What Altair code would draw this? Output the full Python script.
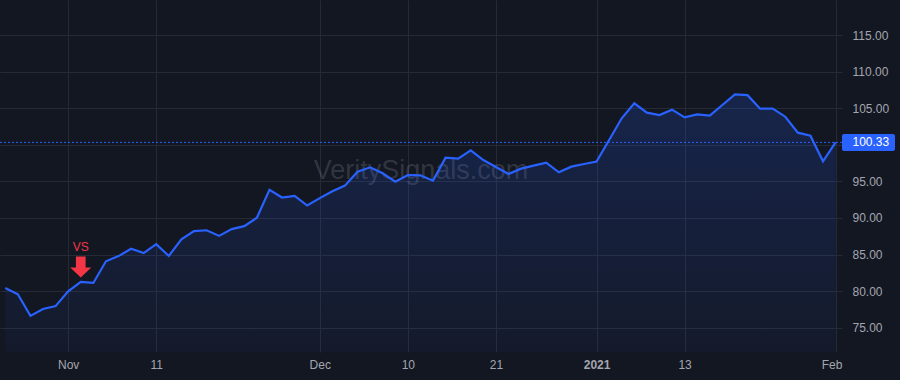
import altair as alt
import pandas as pd

# ---- data ----
dates = [
    "2020-10-26", "2020-10-27", "2020-10-28", "2020-10-29", "2020-10-30",
    "2020-11-02", "2020-11-03", "2020-11-04", "2020-11-05", "2020-11-06",
    "2020-11-09", "2020-11-10", "2020-11-11", "2020-11-12", "2020-11-13",
    "2020-11-16", "2020-11-17", "2020-11-18", "2020-11-19", "2020-11-20",
    "2020-11-23", "2020-11-24", "2020-11-25", "2020-11-27", "2020-11-30",
    "2020-12-01", "2020-12-02", "2020-12-03", "2020-12-04",
    "2020-12-07", "2020-12-08", "2020-12-09", "2020-12-10", "2020-12-11",
    "2020-12-14", "2020-12-15", "2020-12-16", "2020-12-17", "2020-12-18",
    "2020-12-21", "2020-12-22", "2020-12-23", "2020-12-24",
    "2020-12-28", "2020-12-29", "2020-12-30", "2020-12-31",
    "2021-01-04", "2021-01-05", "2021-01-06", "2021-01-07", "2021-01-08",
    "2021-01-11", "2021-01-12", "2021-01-13", "2021-01-14", "2021-01-15",
    "2021-01-19", "2021-01-20", "2021-01-21", "2021-01-22",
    "2021-01-25", "2021-01-26", "2021-01-27", "2021-01-28", "2021-01-29",
    "2021-02-01",
]
prices = [
    80.42, 79.57, 76.62, 77.56, 77.95,
    79.98, 81.25, 81.12, 84.08, 84.79,
    85.80, 85.20, 86.43, 84.81, 87.09,
    88.21, 88.32, 87.55, 88.48, 88.88,
    90.03, 93.84, 92.79, 93.02, 91.70,
    92.71, 93.64, 94.42, 96.33,
    96.92, 96.10, 94.96, 95.87, 95.83,
    95.10, 98.24, 98.10, 99.25, 97.92,
    96.97, 96.01, 96.74, 97.15,
    97.56, 96.24, 97.01, 97.38,
    97.70, 100.66, 103.62, 105.67, 104.39,
    104.07, 104.80, 103.75, 104.16, 103.98,
    105.44, 106.89, 106.78, 104.94,
    104.96, 103.84, 101.66, 101.25, 97.74,
    100.33,
]
x_tick_index = [5, 12, 25, 32, 39, 47, 54, 66]
x_tick_labels = ["Nov", "11", "Dec", "10", "21", "2021", "13", "Feb"]
bold_tick_index = 47
last_tick_index = 66
y_ticks = [75, 80, 85, 90, 95, 100, 105, 110, 115]
hidden_y_label = 100          # covered by the last-price tag
last_price = 100.33
signal_index = 6
signal_label = "VS"
watermark = "VeritySignals.com"

# ---- layout / style ----
W, H = 842, 352
Y_DOMAIN = [71.68, 119.79]
BG = "#131722"
BLUE = "#2962ff"
RED = "#f23645"
GRID = "#252a36"
LABEL = "#a3a6af"
FONT = "Liberation Sans"

df = pd.DataFrame({"i": list(range(len(prices))), "date": dates, "price": prices})

label_expr = "".join(
    f"datum.value == {v} ? '{t}' : " for v, t in zip(x_tick_index, x_tick_labels)
) + "''"

x_enc = alt.X(
    "i:Q",
    scale=alt.Scale(domain=[-0.42, 66.51], nice=False, zero=False),
    axis=alt.Axis(
        values=x_tick_index,
        labelExpr=label_expr,
        title=None,
        grid=True,
        ticks=False,
        domain=False,
        labelPadding=7,
        labelFontWeight=alt.condition(
            f"datum.value == {bold_tick_index}", alt.value("bold"), alt.value("normal")
        ),
        labelOffset=alt.condition(
            f"datum.value == {last_tick_index}", alt.value(-4), alt.value(0)
        ),
    ),
)
y_scale = alt.Scale(domain=Y_DOMAIN, nice=False, zero=False)
y_enc = alt.Y(
    "price:Q",
    scale=y_scale,
    axis=alt.Axis(
        orient="right",
        values=y_ticks,
        labelExpr=f"datum.value == {hidden_y_label} ? '' : format(datum.value, '.2f')",
        title=None,
        grid=True,
        ticks=False,
        domain=False,
        labelPadding=10,
        labelBaseline="middle",
    ),
)

base = alt.Chart(df)

wm = base.mark_text(
    text=watermark, fontSize=27, font=FONT, color="rgba(178,181,190,0.21)",
    align="center", baseline="middle",
).encode(x=alt.value({"expr": "width/2"}), y=alt.value(171)).transform_filter(
    alt.datum.i == 0
)

area = base.mark_area(
    color=alt.Gradient(
        gradient="linear",
        stops=[
            alt.GradientStop(color="rgba(41,98,255,0.19)", offset=0),
            alt.GradientStop(color="rgba(41,98,255,0.04)", offset=1),
        ],
        x1=1, x2=1, y1=0, y2=1,
    )
).encode(x=x_enc, y=y_enc, y2=alt.datum(Y_DOMAIN[0]))

line = base.mark_line(color=BLUE, strokeWidth=2.2).encode(x="i:Q", y="price:Q")

price_rule = alt.Chart(df).mark_rule(
    color=BLUE, strokeDash=[2, 2], strokeWidth=1
).encode(y=alt.datum(last_price)).transform_filter(alt.datum.i == 0)

tag = alt.Chart(df).mark_rect(
    color=BLUE, cornerRadius=2, yOffset=-8.5, y2Offset=8.5
).encode(
    x=alt.value(W), x2=alt.value(W + 53),
    y=alt.datum(last_price), y2=alt.datum(last_price),
).transform_filter(alt.datum.i == 0)

tag_text = alt.Chart(df).mark_text(
    color="white", fontSize=12, font=FONT, align="left", baseline="middle"
).encode(
    x=alt.value(W + 10.5), y=alt.datum(last_price), text=alt.value(f"{last_price:.2f}")
).transform_filter(alt.datum.i == 0)

ARROW = "M -0.46 -1 L 0.46 -1 L 0.46 0.05 L 1 0.05 L 0 1 L -1 0.05 L -0.46 0.05 Z"
arrow = base.mark_point(
    shape=ARROW, size=441, filled=True, color=RED, opacity=1, strokeWidth=0, yOffset=-15
).encode(x="i:Q", y="price:Q").transform_filter(alt.datum.i == signal_index)

vs = base.mark_text(
    text=signal_label, color=RED, fontSize=12, font=FONT, baseline="middle", dy=-35
).encode(x="i:Q", y="price:Q").transform_filter(alt.datum.i == signal_index)

chart = alt.layer(wm, area, line, price_rule, tag, tag_text, arrow, vs).properties(
    width=W, height=H,
    background=BG,
    padding={"left": 0, "top": 0, "right": 58, "bottom": 28},
    autosize=alt.AutoSizeParams(type="none"),
).configure_view(stroke=None, fill=BG).configure_axis(
    gridColor=GRID, gridWidth=1, labelColor=LABEL, labelFontSize=12, labelFont=FONT
)

chart.save("out.html", embed_options={"renderer": "svg", "actions": False})
